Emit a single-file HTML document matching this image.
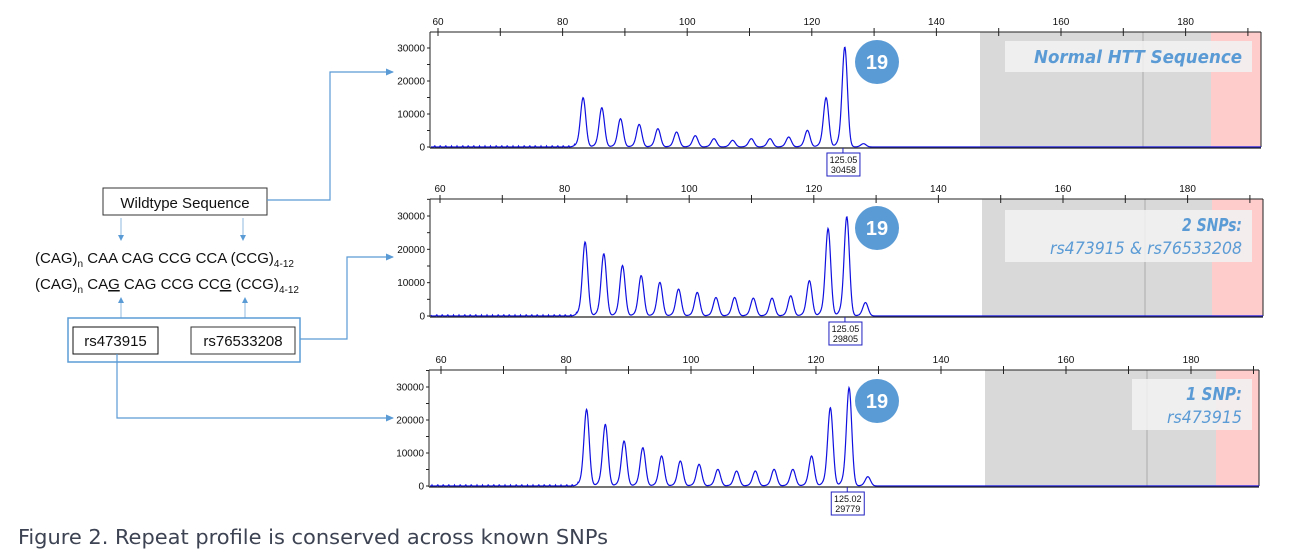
<!DOCTYPE html>
<html><head><meta charset="utf-8"><style>
html,body{margin:0;padding:0;background:#fff;}
svg{display:block;}
</style></head><body>
<svg id="s" width="1291" height="560" viewBox="0 0 1291 560" xmlns="http://www.w3.org/2000/svg" font-family="Liberation Sans, sans-serif">
<defs><marker id="ar" markerWidth="8" markerHeight="8" refX="7" refY="4" orient="auto" markerUnits="userSpaceOnUse"><path d="M0,0.5 L8,4 L0,7.5 z" fill="#5b9bd5"/></marker>
<marker id="ar2" markerWidth="6" markerHeight="6" refX="5" refY="3" orient="auto" markerUnits="userSpaceOnUse"><path d="M0,0 L6,3 L0,6 z" fill="#5b9bd5"/></marker></defs>
<rect x="103" y="188" width="164" height="27" fill="#fff" stroke="#333" stroke-width="1"/>
<text x="185" y="208" font-size="15" text-anchor="middle" fill="#111">Wildtype Sequence</text>
<line x1="121" y1="218" x2="121" y2="240" stroke="#8fb8de" marker-end="url(#ar2)"/>
<line x1="243" y1="218" x2="243" y2="240" stroke="#8fb8de" marker-end="url(#ar2)"/>
<text x="35" y="263" font-size="15" fill="#111">(CAG)<tspan font-size="10" dy="4">n</tspan><tspan dy="-4"> CAA CAG CCG CCA (CCG)</tspan><tspan font-size="10" dy="4">4-12</tspan></text>
<text x="35" y="289" font-size="15" fill="#111">(CAG)<tspan font-size="10" dy="4">n</tspan><tspan dy="-4"> CA</tspan><tspan text-decoration="underline">G</tspan> CAG CCG CC<tspan text-decoration="underline">G</tspan> (CCG)<tspan font-size="10" dy="4">4-12</tspan></text>
<line x1="121" y1="318" x2="121" y2="298" stroke="#8fb8de" marker-end="url(#ar2)"/>
<line x1="245" y1="318" x2="245" y2="298" stroke="#8fb8de" marker-end="url(#ar2)"/>
<rect x="68" y="318" width="232" height="44" fill="none" stroke="#5b9bd5" stroke-width="1.5"/>
<rect x="73" y="327" width="85" height="27" fill="#fff" stroke="#111"/>
<text x="115.5" y="346" font-size="15" text-anchor="middle" fill="#111">rs473915</text>
<rect x="191" y="327" width="104" height="27" fill="#fff" stroke="#333"/>
<text x="243" y="346" font-size="15" text-anchor="middle" fill="#111">rs76533208</text>
<polyline points="267,200 330,200 330,72 393,72" fill="none" stroke="#5b9bd5" stroke-width="1.2" marker-end="url(#ar)"/>
<polyline points="300,339 347,339 347,257 393,257" fill="none" stroke="#5b9bd5" stroke-width="1.2" marker-end="url(#ar)"/>
<polyline points="117,354 117,418 393,418" fill="none" stroke="#5b9bd5" stroke-width="1.2" marker-end="url(#ar)"/>
<g id="panels"></g>
<text x="18" y="544" font-size="20" fill="#3d4352" font-family="DejaVu Sans Condensed, DejaVu Sans, sans-serif" textLength="590" lengthAdjust="spacingAndGlyphs">Figure 2. Repeat profile is conserved across known SNPs</text>
</svg>
<script>
var P=[
{L:430,R:1261,T:32,B:147,x60:438,sc:6.23,y30:48,g1:980,g2:1211,gl:1143,box:[1005,41,247,31],lab:["Normal HTT Sequence"],lw:[208],cy:62,call:["125.05","30458"],
h:[14800,11800,8500,6800,5500,4500,3400,2500,2000,2500,2500,3000,5000,14800,30000,1000]},
{L:430,R:1263,T:199,B:316,x60:440,sc:6.23,y30:216,g1:982,g2:1212,gl:1145,box:[1005,210,247,52],lab:["2 SNPs:","rs473915 & rs76533208"],lw:[60,192],cy:228,call:["125.05","29805"],
h:[22000,18500,15000,12000,10000,8000,7000,5500,5500,5300,5300,6000,10500,26000,29500,4000]},
{L:429,R:1259,T:370,B:486,x60:441,sc:6.25,y30:387,g1:985,g2:1216,gl:1147,box:[1132,379,120,51],lab:["1 SNP:","rs473915"],lw:[56,75],cy:401,call:["125.02","29779"],
h:[23000,18500,13500,11500,9000,7500,6500,5000,4500,4500,5000,5000,9000,23500,29500,2800]}];
var s='';
P.forEach(function(p,i){
 var X=function(u){return p.x60+(u-60)*p.sc;};
 var ys=(p.B-p.y30)/30000;
 s+='<rect x="'+p.g1+'" y="'+p.T+'" width="'+(p.g2-p.g1)+'" height="'+(p.B-p.T)+'" fill="#d9d9d9"/>';
 s+='<rect x="'+p.g2+'" y="'+p.T+'" width="'+(p.R-p.g2)+'" height="'+(p.B-p.T)+'" fill="#ffcccc"/>';
 s+='<line x1="'+p.gl+'" y1="'+p.T+'" x2="'+p.gl+'" y2="'+p.B+'" stroke="#aaa"/>';
 s+='<line x1="'+p.L+'" y1="'+p.T+'" x2="'+p.R+'" y2="'+p.T+'" stroke="#222"/>';
 s+='<line x1="'+p.R+'" y1="'+p.T+'" x2="'+p.R+'" y2="'+p.B+'" stroke="#222"/>';
 s+='<line x1="'+p.L+'" y1="'+p.T+'" x2="'+p.L+'" y2="'+(p.B+1)+'" stroke="#222"/>';
 for(var u=60;u<=190;u+=10){var x=X(u);s+='<line x1="'+x+'" y1="'+(p.T-4)+'" x2="'+x+'" y2="'+(p.T+4)+'" stroke="#222"/>';
  if(u%20==0)s+='<text x="'+x+'" y="'+(p.T-7)+'" font-size="10" text-anchor="middle" fill="#111">'+u+'</text>';}
 for(var v=0;v<=35000;v+=5000){var y=p.B-v*ys;if(y<p.T)break;s+='<line x1="'+(p.L-3)+'" y1="'+y+'" x2="'+p.L+'" y2="'+y+'" stroke="#222"/>';
  if(v%10000==0)s+='<text x="'+(p.L-5)+'" y="'+(y+3.5)+'" font-size="10" text-anchor="end" fill="#111">'+v+'</text>';}
 var d='';
 for(var px=p.L+1;px<=p.R;px+=0.5){var u=60+(px-p.x60)/p.sc;var v=0;
  for(var k=0;k<p.h.length;k++){var c=83.3+3*k;var w=0.42;v+=p.h[k]*Math.exp(-Math.pow(u-c,2)/(2*w*w));
   v+=p.h[k]*0.05*Math.exp(-Math.pow(u-c+0.9,2)/(2*0.5*0.5));}
  if(u<82)v+=(Math.sin(u*7)>0.9?300:0);
  d+=(d?'L':'M')+px.toFixed(1)+','+(p.B-v*ys).toFixed(1);}
 s+='<path d="'+d+'" fill="none" stroke="#1010e0" stroke-width="1.2"/>';
 s+='<line x1="'+p.L+'" y1="'+(p.B+1)+'" x2="'+p.R+'" y2="'+(p.B+1)+'" stroke="#222" stroke-width="1.2"/>';
 var cx=X(125);
 s+='<line x1="'+cx+'" y1="'+(p.B+1)+'" x2="'+cx+'" y2="'+(p.B+6)+'" stroke="#2020c0"/>';
 s+='<rect x="'+(cx-16)+'" y="'+(p.B+6)+'" width="33" height="23" fill="#fff" stroke="#2020c0"/>';
 s+='<text x="'+(cx+0.5)+'" y="'+(p.B+16)+'" font-size="9" text-anchor="middle" fill="#111">'+p.call[0]+'</text>';
 s+='<text x="'+(cx+0.5)+'" y="'+(p.B+26)+'" font-size="9" text-anchor="middle" fill="#111">'+p.call[1]+'</text>';
 s+='<circle cx="877" cy="'+p.cy+'" r="22" fill="#5b9bd5"/>';
 s+='<text x="877" y="'+(p.cy+7)+'" font-size="20" font-weight="bold" text-anchor="middle" fill="#fff">19</text>';
 var b=p.box;s+='<rect x="'+b[0]+'" y="'+b[1]+'" width="'+b[2]+'" height="'+b[3]+'" fill="#f2f2f2" fill-opacity="0.85"/>';
 var fam='font-family="DejaVu Sans, sans-serif" font-style="italic" fill="#5b9bd5" lengthAdjust="spacingAndGlyphs"';
 var xr=b[0]+b[2]-10;
 if(p.lab.length==1)s+='<text x="'+(xr-p.lw[0])+'" y="'+(b[1]+22)+'" font-size="18" font-weight="bold" textLength="'+p.lw[0]+'" '+fam+'>'+p.lab[0]+'</text>';
 else{s+='<text x="'+(xr-p.lw[0])+'" y="'+(b[1]+21)+'" font-size="18" font-weight="bold" textLength="'+p.lw[0]+'" '+fam+'>'+p.lab[0]+'</text>';
  s+='<text x="'+(xr-p.lw[1])+'" y="'+(b[1]+44)+'" font-size="17" textLength="'+p.lw[1]+'" '+fam+'>'+p.lab[1].replace('&','&amp;')+'</text>';}
});
document.getElementById('panels').innerHTML=s;
</script>
</body></html>
